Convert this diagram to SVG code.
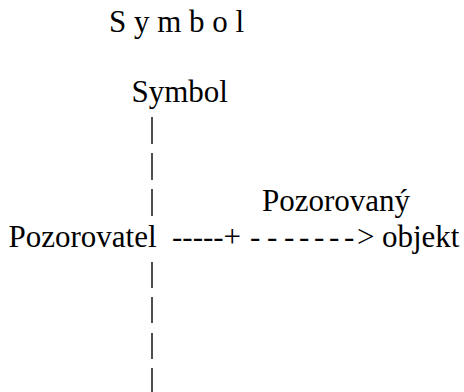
<svg xmlns="http://www.w3.org/2000/svg" width="464" height="392" viewBox="0 0 464 392">
<style>
.t{font-family:'Liberation Serif',serif;font-size:31px;fill:#000}
.bar{stroke:#222;stroke-width:1.6;fill:none}
</style>
<rect width="464" height="392" fill="#fff"/>
<g font-family="Liberation Serif, serif" font-size="31" fill="#000" xml:space="preserve">
<text id="title" class="t" x="109" y="32">S y m b o l</text>
<g id="node-symbol"><text class="t" x="131.5" y="102">Symbol</text></g>
<g id="node-pozorovatel"><text class="t" x="8.5" y="246.5">Pozorovatel</text></g>
<g id="node-objekt"><text class="t" x="262" y="210.5">Pozorovaný</text><text class="t" x="382" y="246.5">objekt</text></g>
<g id="connectors">
<line class="bar" x1="152" y1="117" x2="152" y2="144"/>
<line class="bar" x1="152" y1="153" x2="152" y2="180"/>
<line class="bar" x1="152" y1="189" x2="152" y2="216"/>
<line class="bar" x1="152" y1="262" x2="152" y2="288"/>
<line class="bar" x1="152" y1="297" x2="152" y2="323"/>
<line class="bar" x1="152" y1="333" x2="152" y2="359"/>
<line class="bar" x1="152" y1="368" x2="152" y2="394"/>
<text class="t" x="172" y="246.5">-----+</text>
<text class="t" x="250 267 284 299 314 329 344 357" y="246.5">-------&gt;</text>
</g>
</g>
</svg>
